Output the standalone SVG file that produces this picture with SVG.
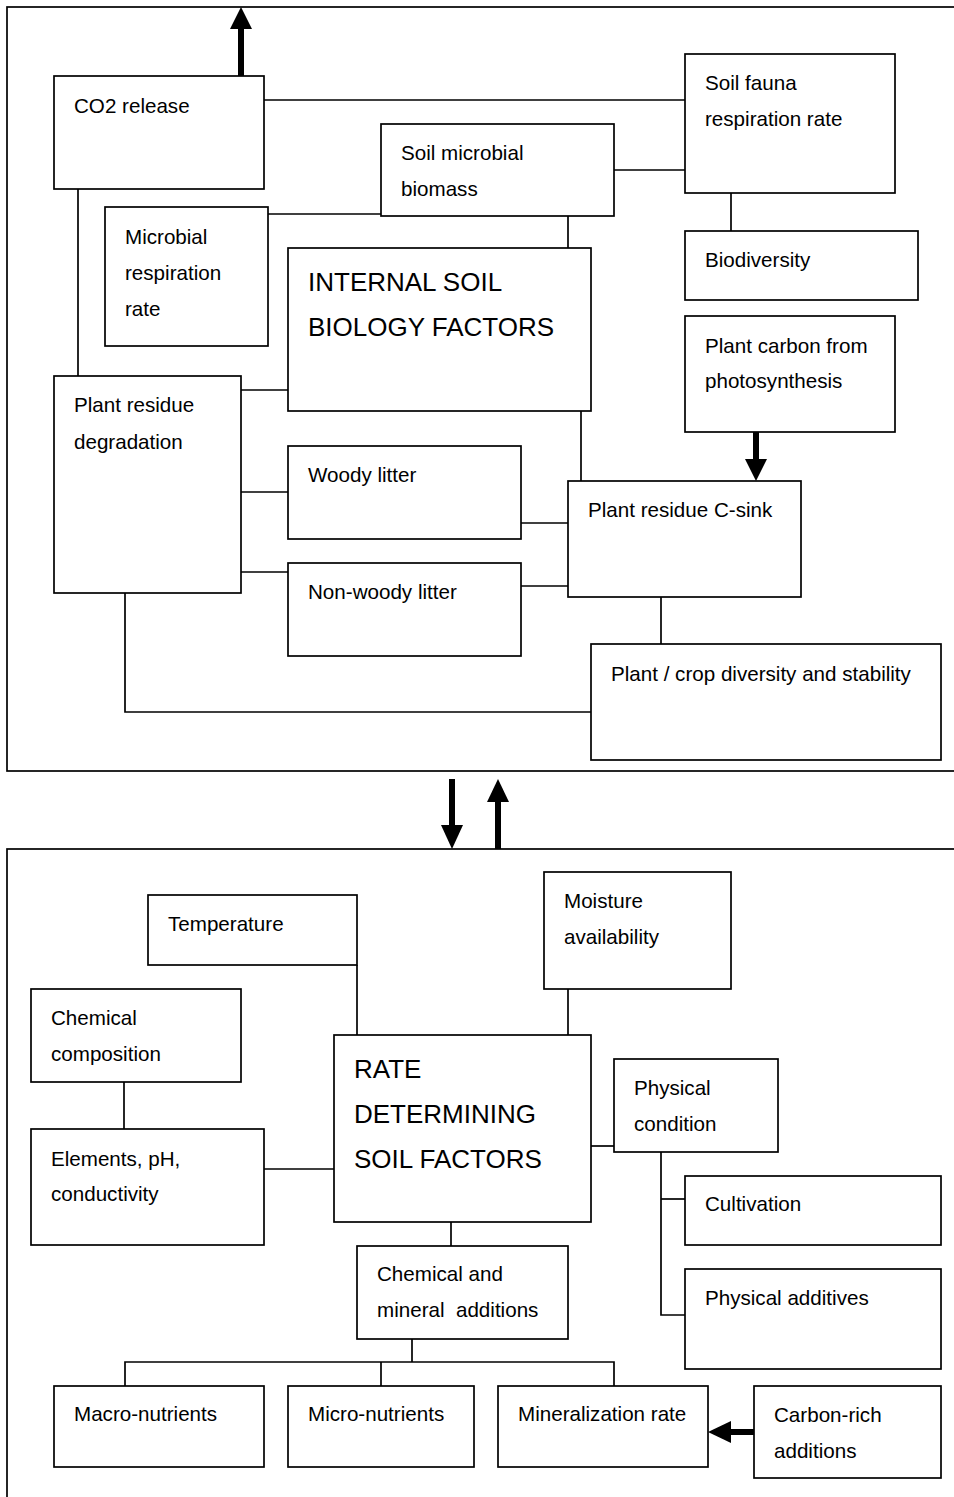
<svg xmlns="http://www.w3.org/2000/svg" width="954" height="1497" viewBox="0 0 954 1497">
<style>
rect{fill:#fff;stroke:#000;stroke-width:1.7}
.frame{fill:none;stroke:#000;stroke-width:1.7}
text{font-family:"Liberation Sans",Arial,sans-serif;font-size:20.6px;fill:#000}
.big{font-size:26px}
#connectors line,#connectors polyline{stroke:#000;stroke-width:1.7;fill:none}
#connectors .thick{stroke:#000;stroke-width:6;fill:none}
.head{fill:#000;stroke:none}
</style>
<rect class="frame" x="7" y="7" width="960" height="764"/>
<rect class="frame" x="7" y="849" width="960" height="700"/>
<g id="connectors">
<line x1="264" y1="100" x2="685" y2="100"/>
<line x1="78" y1="189" x2="78" y2="376"/>
<line x1="268" y1="214" x2="381" y2="214"/>
<line x1="568" y1="216" x2="568" y2="248"/>
<line x1="614" y1="170" x2="685" y2="170"/>
<line x1="731" y1="193" x2="731" y2="231"/>
<line x1="241" y1="390" x2="288" y2="390"/>
<line x1="581" y1="411" x2="581" y2="481"/>
<line x1="241" y1="492" x2="288" y2="492"/>
<line x1="521" y1="523" x2="568" y2="523"/>
<line x1="241" y1="572" x2="288" y2="572"/>
<line x1="521" y1="586" x2="568" y2="586"/>
<line x1="661" y1="597" x2="661" y2="644"/>
<polyline points="125,593 125,712 591,712"/>
<line x1="357" y1="965" x2="357" y2="1035"/>
<line x1="568" y1="989" x2="568" y2="1035"/>
<line x1="124" y1="1082" x2="124" y2="1129"/>
<line x1="264" y1="1169" x2="334" y2="1169"/>
<line x1="591" y1="1146" x2="614" y2="1146"/>
<polyline points="661,1152 661,1315 685,1315"/>
<line x1="661" y1="1199" x2="685" y2="1199"/>
<line x1="451" y1="1222" x2="451" y2="1246"/>
<line x1="412" y1="1339" x2="412" y2="1362"/>
<polyline points="125,1386 125,1362 614,1362 614,1386"/>
<line x1="381" y1="1362" x2="381" y2="1386"/>
<line class="thick" x1="241" y1="76" x2="241" y2="24"/>
<polygon class="head" points="241,7 230,29 252,29"/>
<line class="thick" x1="756" y1="432" x2="756" y2="464"/>
<polygon class="head" points="756,481 745,459 767,459"/>
<line class="thick" x1="452" y1="779" x2="452" y2="830"/>
<polygon class="head" points="452,849 441,825 463,825"/>
<line class="thick" x1="498" y1="849" x2="498" y2="797"/>
<polygon class="head" points="498,779 487,802 509,802"/>
<line class="thick" x1="754" y1="1432" x2="725" y2="1432"/>
<polygon class="head" points="708,1432 731,1421 731,1443"/>
</g>
<g id="co2"><rect x="54" y="76" width="210" height="113"/><text x="74" y="113">CO2 release</text></g>
<g id="fauna"><rect x="685" y="54" width="210" height="139"/><text x="705" y="90">Soil fauna</text><text x="705" y="126">respiration rate</text></g>
<g id="microbial-biomass"><rect x="381" y="124" width="233" height="92"/><text x="401" y="160">Soil microbial</text><text x="401" y="196">biomass</text></g>
<g id="microbial-resp"><rect x="105" y="207" width="163" height="139"/><text x="125" y="244">Microbial</text><text x="125" y="280">respiration</text><text x="125" y="316">rate</text></g>
<g id="internal"><rect x="288" y="248" width="303" height="163"/><text class="big" x="308" y="291">INTERNAL SOIL</text><text class="big" x="308" y="336">BIOLOGY FACTORS</text></g>
<g id="biodiversity"><rect x="685" y="231" width="233" height="69"/><text x="705" y="267">Biodiversity</text></g>
<g id="plant-carbon"><rect x="685" y="316" width="210" height="116"/><text x="705" y="353">Plant carbon from</text><text x="705" y="388">photosynthesis</text></g>
<g id="degradation"><rect x="54" y="376" width="187" height="217"/><text x="74" y="412">Plant residue</text><text x="74" y="449">degradation</text></g>
<g id="woody"><rect x="288" y="446" width="233" height="93"/><text x="308" y="482">Woody litter</text></g>
<g id="csink"><rect x="568" y="481" width="233" height="116"/><text x="588" y="517">Plant residue C-sink</text></g>
<g id="nonwoody"><rect x="288" y="563" width="233" height="93"/><text x="308" y="599">Non-woody litter</text></g>
<g id="crop-diversity"><rect x="591" y="644" width="350" height="116"/><text x="611" y="681">Plant / crop diversity and stability</text></g>
<g id="temperature"><rect x="148" y="895" width="209" height="70"/><text x="168" y="931">Temperature</text></g>
<g id="moisture"><rect x="544" y="872" width="187" height="117"/><text x="564" y="908">Moisture</text><text x="564" y="944">availability</text></g>
<g id="chem-comp"><rect x="31" y="989" width="210" height="93"/><text x="51" y="1025">Chemical</text><text x="51" y="1061">composition</text></g>
<g id="rate"><rect x="334" y="1035" width="257" height="187"/><text class="big" x="354" y="1078">RATE</text><text class="big" x="354" y="1123">DETERMINING</text><text class="big" x="354" y="1168">SOIL FACTORS</text></g>
<g id="physical"><rect x="614" y="1059" width="164" height="93"/><text x="634" y="1095">Physical</text><text x="634" y="1131">condition</text></g>
<g id="elements"><rect x="31" y="1129" width="233" height="116"/><text x="51" y="1166">Elements, pH,</text><text x="51" y="1201">conductivity</text></g>
<g id="cultivation"><rect x="685" y="1176" width="256" height="69"/><text x="705" y="1211">Cultivation</text></g>
<g id="chem-min"><rect x="357" y="1246" width="211" height="93"/><text x="377" y="1281">Chemical and</text><text x="377" y="1317" xml:space="preserve">mineral  additions</text></g>
<g id="phys-add"><rect x="685" y="1269" width="256" height="100"/><text x="705" y="1305">Physical additives</text></g>
<g id="macro"><rect x="54" y="1386" width="210" height="81"/><text x="74" y="1421">Macro-nutrients</text></g>
<g id="micro"><rect x="288" y="1386" width="186" height="81"/><text x="308" y="1421">Micro-nutrients</text></g>
<g id="mineral"><rect x="498" y="1386" width="210" height="81"/><text x="518" y="1421">Mineralization rate</text></g>
<g id="carbon-rich"><rect x="754" y="1386" width="187" height="92"/><text x="774" y="1422">Carbon-rich</text><text x="774" y="1458">additions</text></g>
</svg>
